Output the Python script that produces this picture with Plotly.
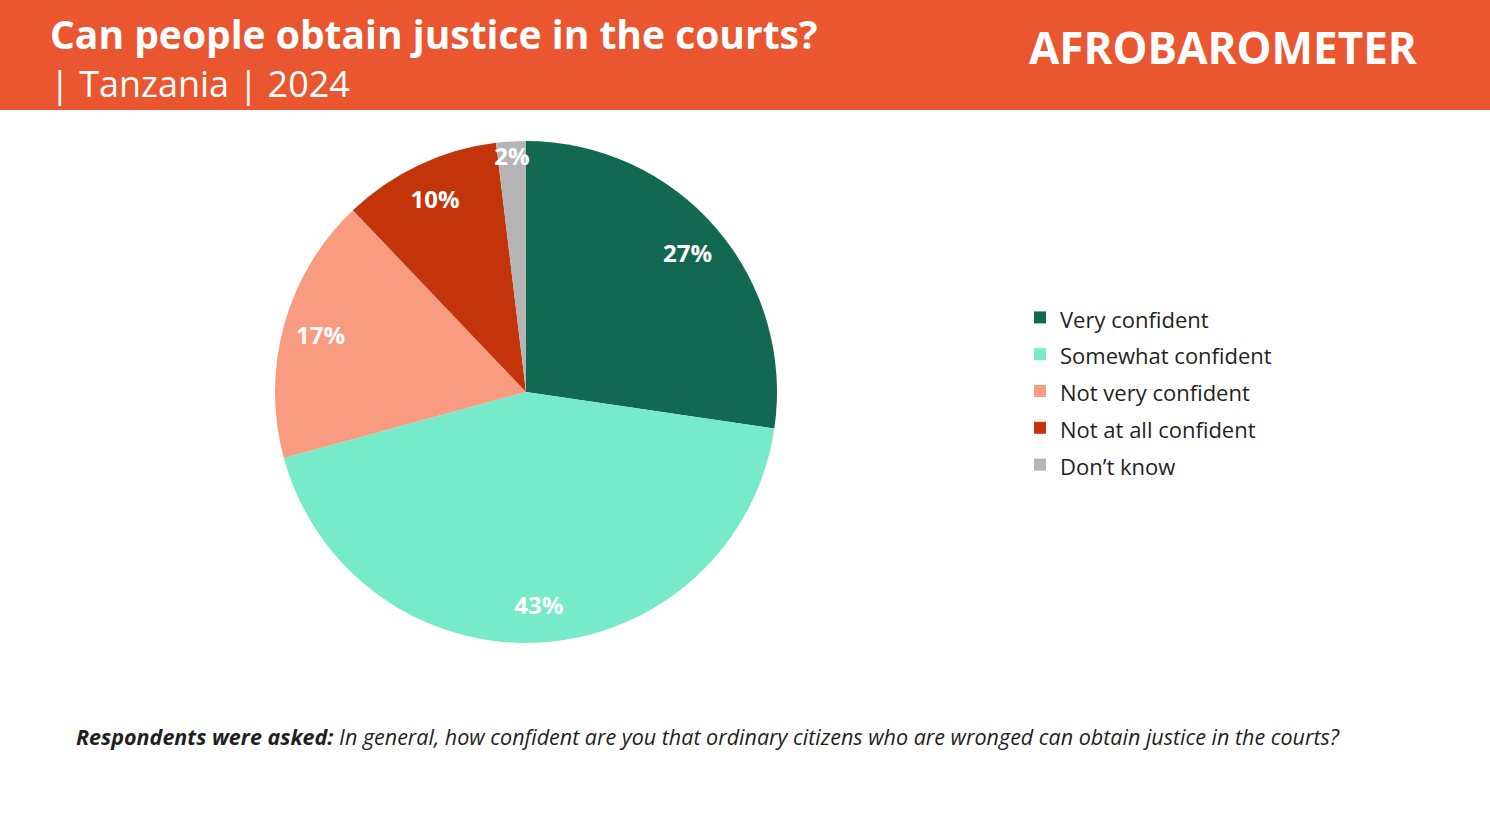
import plotly.graph_objects as go

# Data
categories = ["Very confident", "Somewhat confident", "Not very confident", "Not at all confident", "Don\u2019t know"]
values = [27.3, 43.4, 17.1, 10.2, 1.9]
colors = ["#136852", "#77EAC9", "#F89B80", "#C3340B", "#B5B5B5"]

W, H = 1490, 838
FONT = "Open Sans"
DOMAIN = dict(x=[275 / W, 777 / W], y=[1 - 643 / H, 1 - 141 / H])

legend_labels = ["<span style='font-size:22px'>%s</span>" % c for c in categories]

fig = go.Figure()
# Full pie (slices + legend)
fig.add_trace(go.Pie(
    labels=legend_labels,
    values=values,
    marker=dict(colors=colors, line=dict(width=0)),
    sort=False,
    direction="clockwise",
    rotation=0,
    textinfo="none",
    hoverinfo="skip",
    domain=DOMAIN,
))
# Transparent ring on top carrying the percentage labels near the rim
fig.add_trace(go.Pie(
    labels=legend_labels,
    values=values,
    hole=0.7,
    marker=dict(colors=["rgba(0,0,0,0)"] * len(values), line=dict(width=0)),
    sort=False,
    direction="clockwise",
    rotation=0,
    texttemplate="<b>%{value:.0f}%</b>",
    textposition="inside",
    insidetextorientation="horizontal",
    textfont=dict(family=FONT, size=24, color="white"),
    hoverinfo="skip",
    showlegend=False,
    domain=DOMAIN,
))

fig.update_layout(
    width=W, height=H,
    margin=dict(l=0, r=0, t=0, b=0),
    paper_bgcolor="white",
    plot_bgcolor="white",
    showlegend=True,
    uniformtext=dict(minsize=24, mode="show"),
    legend=dict(
        x=1020 / W, y=1 - 294 / H, xanchor="left", yanchor="top",
        font=dict(family=FONT, size=26, color="#1f1f1f"),
        itemwidth=30,
        bgcolor="rgba(0,0,0,0)",
    ),
    shapes=[dict(type="rect", xref="paper", yref="paper",
                 x0=0, x1=1, y0=1 - 110 / H, y1=1,
                 fillcolor="#E95630", line=dict(width=0), layer="below")],
    annotations=[
        dict(text="<b>Can people obtain justice in the courts?</b>", xref="paper", yref="paper",
             x=48 / W, y=1 - 34 / H, xanchor="left", yanchor="middle", showarrow=False,
             font=dict(family=FONT, size=39, color="white")),
        dict(text="| Tanzania | 2024", xref="paper", yref="paper",
             x=48 / W, y=1 - 84 / H, xanchor="left", yanchor="middle", showarrow=False,
             font=dict(family=FONT, size=36, color="white")),
        dict(text="<b>AFROBAROMETER</b>", xref="paper", yref="paper",
             x=1420 / W, y=1 - 47 / H, xanchor="right", yanchor="middle", showarrow=False,
             font=dict(family=FONT, size=44, color="white")),
        dict(text="<b><i>Respondents were asked:</i></b> <i>In general, how confident are you that ordinary citizens who are wronged can obtain justice in the courts?</i>",
             xref="paper", yref="paper",
             x=74 / W, y=1 - 736 / H, xanchor="left", yanchor="middle", showarrow=False,
             font=dict(family=FONT, size=21.5, color="#1f1f1f")),
    ],
)

fig.write_html("out.html", config={"displayModeBar": False},
               post_script="document.body.style.margin='0';")
